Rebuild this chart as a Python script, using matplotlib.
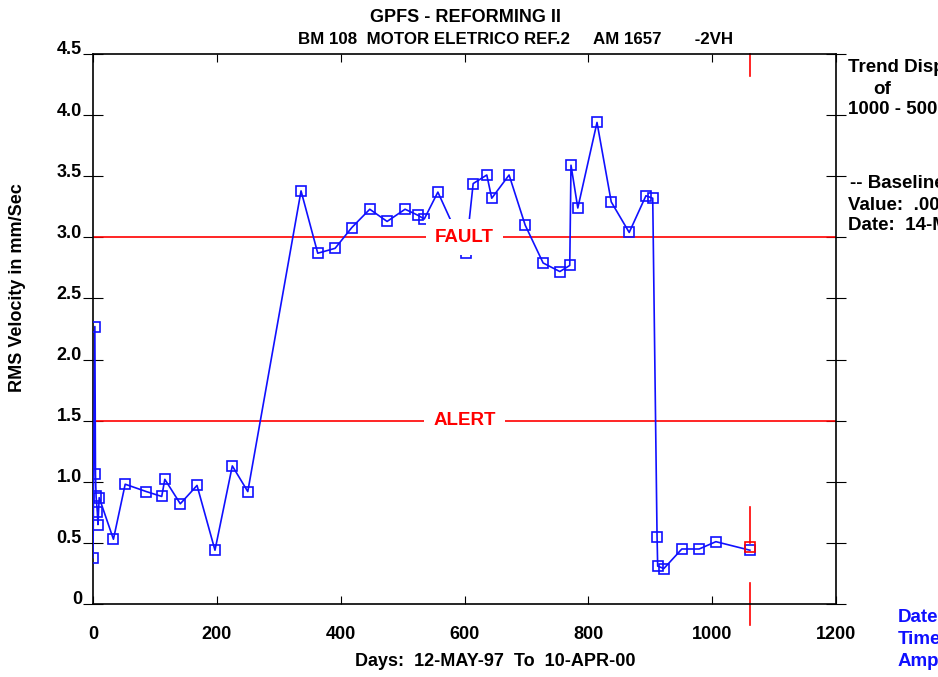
import matplotlib
matplotlib.use("Agg")
import matplotlib.pyplot as plt
import matplotlib.transforms as mtransforms

plt.rcParams['font.family'] = ['Liberation Sans', 'DejaVu Sans']
plt.rcParams['font.weight'] = 'bold'

# readings (days since 12-MAY-97, RMS velocity mm/s)
days = [0, 3, 4, 5, 7, 8, 10, 33, 52, 86, 111, 116, 141, 168, 197, 225, 250,
        336, 363, 391, 418, 447, 475, 504, 525, 535, 557, 602, 614, 636, 644,
        672, 698, 727, 754, 770, 772, 783, 814, 837, 866, 893, 904, 911, 912,
        922, 951, 979, 1006, 1061]
rms = [0.38, 2.27, 1.06, 0.88, 0.75, 0.65, 0.87, 0.53, 0.98, 0.92, 0.88, 1.02,
       0.82, 0.97, 0.44, 1.13, 0.92, 3.38, 2.87, 2.91, 3.08, 3.23, 3.13, 3.23,
       3.18, 3.15, 3.37, 2.87, 3.44, 3.51, 3.32, 3.51, 3.10, 2.79, 2.72, 2.77,
       3.59, 3.24, 3.94, 3.29, 3.04, 3.34, 3.32, 0.55, 0.31, 0.29, 0.45, 0.45,
       0.51, 0.44]
alarm_levels = [3.0, 1.5]
alarm_names = ["FAULT", "ALERT"]
cursor_day = 1061
cursor_value = 0.47
xticks = [0, 200, 400, 600, 800, 1000, 1200]
yticks = [0, 0.5, 1.0, 1.5, 2.0, 2.5, 3.0, 3.5, 4.0, 4.5]
ytick_labels = ["0", "0.5", "1.0", "1.5", "2.0", "2.5", "3.0", "3.5", "4.0", "4.5"]

fig = plt.figure(figsize=(9.38, 6.77), dpi=100)
ax = fig.add_axes([93/938, 73/677, 743/938, 550/677])

blue = "#1010ff"
ax.plot(days, rms, color=blue, lw=1.2, marker="s", ms=6.5, mfc="none",
        mec=blue, mew=1.2, zorder=3)
ax.plot([cursor_day], [cursor_value], marker="s", ms=6.5, mfc="none",
        mec="red", mew=1.2, ls="none", zorder=4)

for lev, name in zip(alarm_levels, alarm_names):
    ax.axhline(lev, color="red", lw=1.2, zorder=2)
    ax.text(600, lev, name, color="red", fontsize=13.5, fontweight="bold",
            ha="center", va="center", zorder=5,
            bbox=dict(boxstyle="square,pad=0.5", fc="white", ec="none"))

# cursor line
ax.plot([cursor_day, cursor_day], [4.5, 4.32], color="red", lw=1.2, clip_on=False)
ax.plot([cursor_day, cursor_day], [0.79, 0.50], color="red", lw=1.2)
ax.plot([cursor_day, cursor_day], [0.17, -0.17], color="red", lw=1.2, clip_on=False)

ax.set_xlim(0, 1200)
ax.set_ylim(0, 4.5)
ax.set_xticks(xticks)
ax.set_yticks(yticks)
ax.set_yticklabels(ytick_labels)
ax.tick_params(axis="x", direction="in", length=6, labelsize=13, top=True, pad=16)
ax.tick_params(axis="y", direction="inout", length=14, labelsize=13, right=True, pad=1)
for lab in ax.get_yticklabels():
    lab.set_transform(lab.get_transform() + mtransforms.ScaledTranslation(0, 6/100, fig.dpi_scale_trans))
for lab in ax.get_xticklabels() + ax.get_yticklabels():
    lab.set_fontweight("bold")
for sp in ax.spines.values():
    sp.set_linewidth(1.2)

ax.set_xlabel("Days:  12-MAY-97  To  10-APR-00", fontsize=13, fontweight="bold")
ax.xaxis.set_label_coords((495 - 93) / 743, -(661 - 604) / 550)
ax.set_ylabel("RMS Velocity in mm/Sec", fontsize=13, fontweight="bold")
ax.yaxis.set_label_coords(-(93 - 18) / 743, (604 - 288) / 550)
ax.xaxis.label.set_va("center")
ax.yaxis.label.set_va("center")

fig.text(465/938, 1 - 17/677, "GPFS - REFORMING II", ha="center", va="center",
         fontsize=13, fontweight="bold")
fig.text(298/938, 1 - 40/677, "BM 108  MOTOR ELETRICO REF.2     AM 1657       -2VH",
         ha="left", va="center", fontsize=12.2, fontweight="bold")

side = [("Trend Display", 848, 68), ("of", 873, 89), ("1000 - 5000 Hz", 848, 110),
        ("-- Baseline --", 850, 184), ("Value:  .000", 848, 205),
        ("Date:  14-MAY-97", 848, 226)]
for txt, px, py in side:
    fig.text(px/938, 1 - py/677, txt, ha="left", va="center", fontsize=13.5,
             fontweight="bold")
for txt, py in [("Date:", 617), ("Time:", 640), ("Ampl:", 662)]:
    fig.text(898/938, 1 - py/677, txt, ha="left", va="center", fontsize=13.5,
             fontweight="bold", color=blue)

fig.savefig("out.png", dpi=100)
